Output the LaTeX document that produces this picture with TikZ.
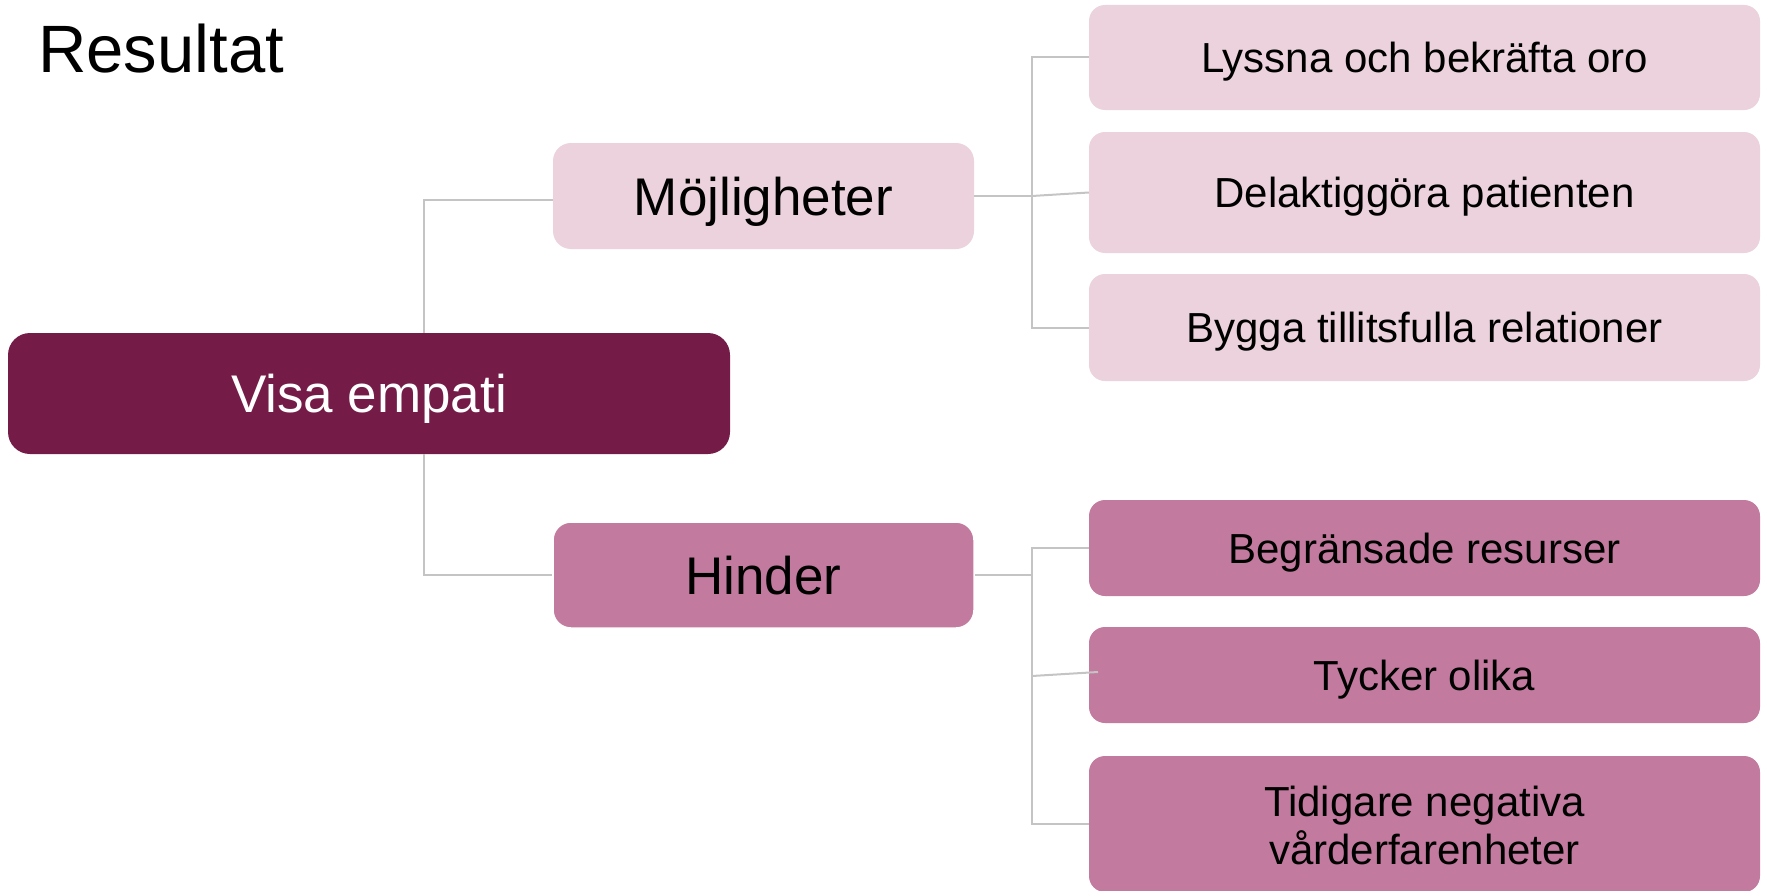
\documentclass[tikz,border=0pt]{standalone}
\usepackage{fontspec}
\setmainfont{Liberation Sans}
\definecolor{darkplum}{HTML}{741C47}
\definecolor{lightpink}{HTML}{EBD2DC}
\definecolor{midpink}{HTML}{C27A9E}
\definecolor{linegray}{HTML}{C4C4C4}
\begin{document}
\begin{tikzpicture}[x=1pt,y=-1pt,
  basebox/.style={rectangle, inner sep=0pt, align=center, text=black, text depth=0pt},
  rootbox/.style={basebox, fill=darkplum, text=white, rounded corners=22pt,
    text height=38pt, font=\fontsize{53}{60}\selectfont},
  lvlone/.style={basebox, rounded corners=18pt, text height=38pt, font=\fontsize{53}{60}\selectfont},
  leafbox/.style={basebox, rounded corners=16pt, text height=30pt, font=\fontsize{42}{48}\selectfont},
  conn/.style={draw=linegray, line width=2pt}]
\useasboundingbox (0,0) rectangle (1767,891);
\begin{scope}
\clip (0,0) rectangle (1767,891);
% title
\node[anchor=base west, inner sep=0pt, font=\fontsize{67}{80}\selectfont] (title) at (38,73) {Resultat};
% root
\node[rootbox, minimum width=722pt, minimum height=121pt] (visa) at (369,393.5) {Visa empati};
% level one
\node[lvlone, fill=lightpink, minimum width=421pt, minimum height=106pt] (moj) at (763.5,196) {Möjligheter};
\node[lvlone, fill=midpink, draw=white, line width=1.5pt, minimum width=421pt, minimum height=106pt] (hind) at (763.5,575) {Hinder};
% leaves
\node[leafbox, fill=lightpink, minimum width=671pt, minimum height=105pt] (lys) at (1424.5,57.5) {Lyssna och bekräfta oro};
\node[leafbox, fill=lightpink, minimum width=671pt, minimum height=121pt] (del) at (1424.5,192.5) {Delaktiggöra patienten};
\node[leafbox, fill=lightpink, minimum width=671pt, minimum height=107pt] (byg) at (1424.5,327.5) {Bygga tillitsfulla relationer};
\node[leafbox, fill=midpink, minimum width=671pt, minimum height=96pt] (beg) at (1424.5,548) {Begränsade resurser};
\node[leafbox, fill=midpink, minimum width=671pt, minimum height=96pt] (tyc) at (1424.5,675) {Tycker olika};
\node[leafbox, fill=midpink, text height=80pt, minimum width=671pt, minimum height=136pt] (tid) at (1424.5,824) {Tidigare negativa\\vårderfarenheter};
% connectors
\coordinate (m1) at (424,200);
\coordinate (h1) at (424,575);
\draw[conn] (visa.north -| m1) -- (m1) -- (moj.west |- m1);
\draw[conn] (visa.south -| h1) -- (h1) -- (hind.west);
\coordinate (t1) at (1032,196);
\draw[conn] (moj.east) -- (t1);
\draw[conn] (lys.west) -- (lys.west -| t1) -- (byg.west -| t1) -- (byg.west);
\draw[conn] (t1) -- (del.west);
\coordinate (t2) at (1032,575);
\draw[conn] (hind.east) -- (t2);
\draw[conn] (beg.west) -- (beg.west -| t2) -- (tid.west -| t2) -- (tid.west);
\coordinate (t3) at (1032,676);
\coordinate (tyend) at (1098,672);
\draw[conn] (t3) -- (tyend);
\end{scope}
\end{tikzpicture}
\end{document}
